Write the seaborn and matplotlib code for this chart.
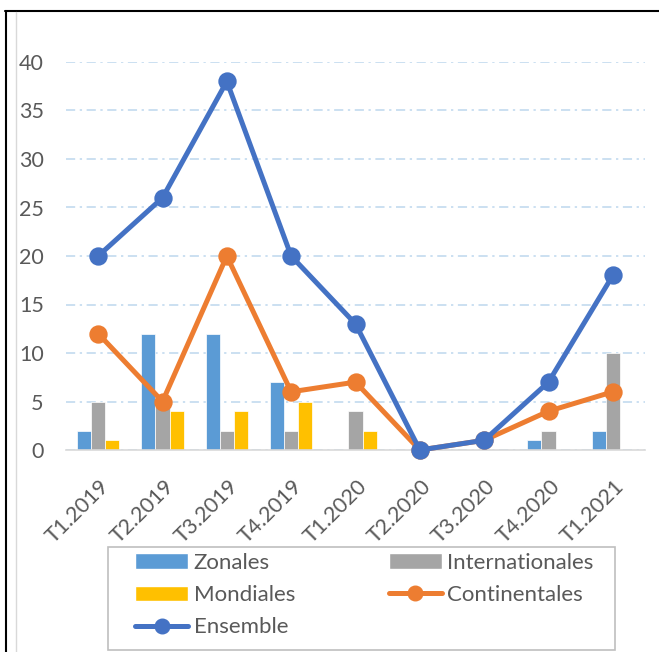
import matplotlib
matplotlib.use("Agg")
import matplotlib.pyplot as plt
import matplotlib.transforms as mtrans
import seaborn as sns
import pandas as pd
from matplotlib.lines import Line2D
from matplotlib.patches import Patch, Rectangle

categories = ["T1.2019", "T2.2019", "T3.2019", "T4.2019", "T1.2020",
              "T2.2020", "T3.2020", "T4.2020", "T1.2021"]
zonales = [2, 12, 12, 7, 0, 0, 0, 1, 2]
internationales = [5, 5, 2, 2, 4, 0, 0, 2, 10]
mondiales = [1, 4, 4, 5, 2, 0, 0, 0, 0]
continentales = [12, 5, 20, 6, 7, 0, 1, 4, 6]
ensemble = [20, 26, 38, 20, 13, 0, 1, 7, 18]
yticks = [0, 5, 10, 15, 20, 25, 30, 35, 40]

C_ZON = "#5B9BD5"
C_INT = "#A5A5A5"
C_MON = "#FFC000"
C_CON = "#ED7D31"
C_ENS = "#4472C4"

sns.set_theme(style="white")
plt.rcParams["font.family"] = ["Lato", "DejaVu Sans"]

bars = pd.DataFrame({
    "cat": categories * 3,
    "val": zonales + internationales + mondiales,
    "serie": ["Zonales"] * 9 + ["Internationales"] * 9 + ["Mondiales"] * 9,
})
lines = pd.DataFrame({
    "cat": categories * 2,
    "val": continentales + ensemble,
    "serie": ["Continentales"] * 9 + ["Ensemble"] * 9,
})

fig = plt.figure(figsize=(6.59, 6.52), dpi=100)
ax = fig.add_axes([66 / 659, 1 - 450 / 652, (645 - 66) / 659, (450 - 62) / 652])

sns.barplot(data=bars, x="cat", y="val", hue="serie", order=categories,
            hue_order=["Zonales", "Internationales", "Mondiales"],
            palette=[C_ZON, C_INT, C_MON], saturation=1, width=0.66, gap=0,
            edgecolor="white", linewidth=0.5, legend=False, ax=ax, zorder=2)

LW, MS = 3.6, 10.5
for name, col in [("Continentales", C_CON), ("Ensemble", C_ENS)]:
    d = lines[lines["serie"] == name]
    sns.pointplot(data=d, x="cat", y="val", order=categories, color=col,
                  markers="o", linestyles="-", linewidth=LW, markersize=MS,
                  ax=ax, zorder=4)
for coll in ax.collections + ax.lines:
    coll.set_clip_on(False)

ax.set_ylim(0, 40)
ax.set_xlim(-0.5, 8.5)
ax.set_yticks(yticks)
ax.set_xlabel("")
ax.set_ylabel("")
ax.grid(axis="y", color="#BDD7EE", linestyle=(0, (6, 3, 1.5, 3)), linewidth=1.1, zorder=0)
ax.grid(axis="x", visible=False)
ax.set_axisbelow(True)
for s in ["top", "right", "left"]:
    ax.spines[s].set_visible(False)
ax.spines["bottom"].set_color("#D9D9D9")
ax.spines["bottom"].set_linewidth(1.2)
ax.tick_params(axis="y", length=0, labelsize=15.5, labelcolor="#595959", pad=16)
ax.tick_params(axis="x", length=0, labelsize=15.5, labelcolor="#595959", pad=6)
offset = mtrans.ScaledTranslation(1 / 100, -18 / 100, fig.dpi_scale_trans)
for lab in ax.get_xticklabels():
    lab.set_rotation(45)
    lab.set_horizontalalignment("right")
    lab.set_rotation_mode("anchor")
    lab.set_transform(lab.get_transform() + offset)

handles = [
    Patch(facecolor=C_ZON, label="Zonales"),
    Patch(facecolor=C_MON, label="Mondiales"),
    Line2D([], [], color=C_ENS, lw=LW, marker="o", markersize=MS, label="Ensemble"),
    Patch(facecolor=C_INT, label="Internationales"),
    Line2D([], [], color=C_CON, lw=LW, marker="o", markersize=MS, label="Continentales"),
]
leg = fig.legend(handles=handles, ncol=2, loc="upper left",
                 bbox_to_anchor=(135 / 659, 1 - 553 / 652),
                 fontsize=16, frameon=False,
                 handlelength=2.4, handletextpad=0.25,
                 labelspacing=0.55, borderpad=0, columnspacing=4.2,
                 borderaxespad=0)
for t in leg.get_texts():
    t.set_color("#595959")

# legend frame
fig.add_artist(Rectangle((108 / 659, 1 - 650 / 652), (615 - 108) / 659, 103 / 652,
                         transform=fig.transFigure, fill=False,
                         edgecolor="#BFBFBF", linewidth=1.2))

# outer frame lines
fig.add_artist(Line2D([5 / 659, 1], [1 - 10.5 / 652, 1 - 10.5 / 652], color="black", lw=1.5, transform=fig.transFigure))
fig.add_artist(Line2D([5.5 / 659, 5.5 / 659], [0, 1 - 10.5 / 652], color="black", lw=1.5, transform=fig.transFigure))
fig.add_artist(Line2D([15.5 / 659, 15.5 / 659], [0, 1 - 12 / 652], color="#D9D9D9", lw=1.0, transform=fig.transFigure))

fig.savefig("out.png", dpi=100)
